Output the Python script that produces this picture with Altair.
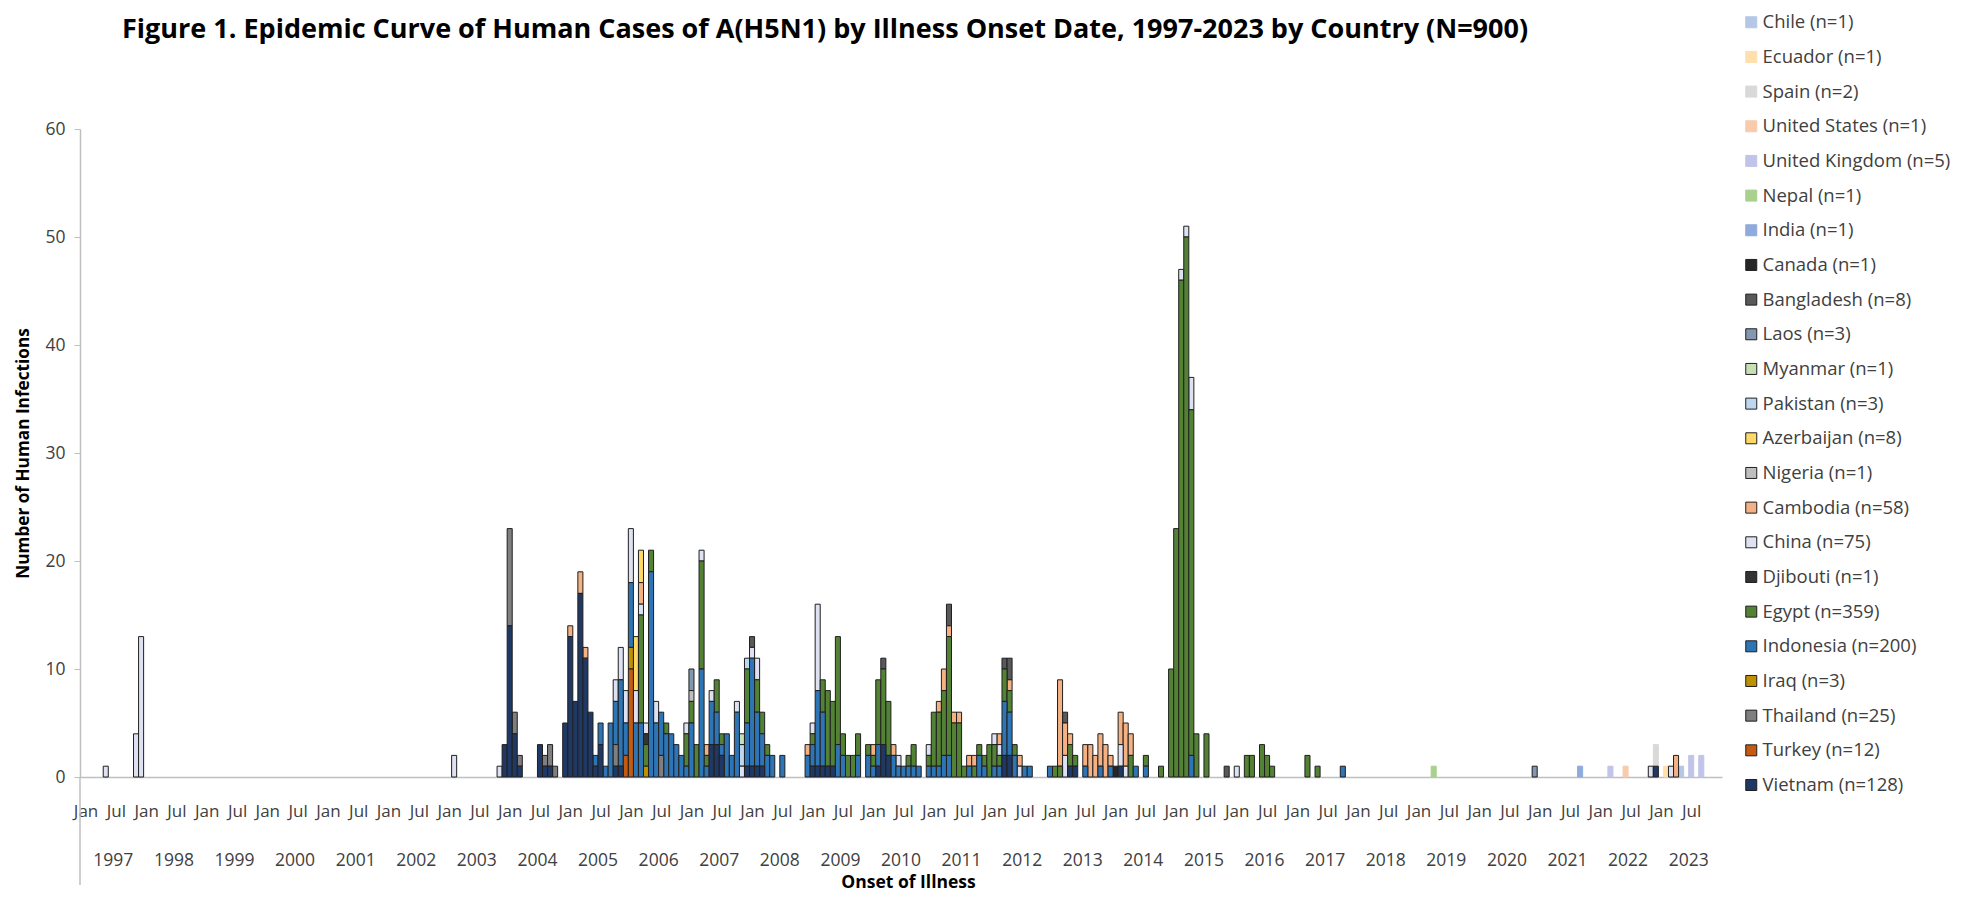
import altair as alt
import pandas as pd

TITLE = "Figure 1. Epidemic Curve of Human Cases of A(H5N1) by Illness Onset Date, 1997-2023 by Country (N=900)"
Y_TITLE = "Number of Human Infections"
X_TITLE = "Onset of Illness"
YEARS = list(range(1997, 2024))
Y_TICKS = [0, 10, 20, 30, 40, 50, 60]

# legend order, top to bottom (stack order is the reverse: Vietnam at the bottom)
COUNTRIES = ["Chile", "Ecuador", "Spain", "United States", "United Kingdom", "Nepal", "India",
             "Canada", "Bangladesh", "Laos", "Myanmar", "Pakistan", "Azerbaijan", "Nigeria",
             "Cambodia", "China", "Djibouti", "Egypt", "Indonesia", "Iraq", "Thailand", "Turkey",
             "Vietnam"]
COUNTRY_N = [1, 1, 2, 1, 5, 1, 1, 1, 8, 3, 1, 3, 8, 1, 58, 75, 1, 359, 200, 3, 25, 12, 128]
FILL = ["#B4C7E7", "#FFE0AC", "#D9D9D9", "#F8CBAD", "#C0C4E8", "#A9D18E", "#8FAADC",
        "#262626", "#595959", "#8497B0", "#C5E0B4", "#BDD7EE", "#FFD966", "#BFBFBF",
        "#F4B183", "#DDE1F2", "#333333", "#548235", "#2E75B6", "#BF9000", "#7F7F7F", "#C55A11",
        "#203864"]
OUTLINE = ["#B4C7E7", "#FFE0AC", "#D9D9D9", "#F8CBAD", "#C0C4E8", "#A9D18E", "#8FAADC",
           "#1F1F1F", "#1F1F1F", "#1F1F1F", "#1F1F1F", "#1F1F1F", "#1F1F1F", "#1F1F1F",
           "#1F1F1F", "#1F1F1F", "#1F1F1F", "#1F1F1F", "#1F1F1F", "#1F1F1F", "#1F1F1F", "#1F1F1F",
           "#1F1F1F"]

# monthly cases by onset month (YYYY-MM, cases)
CHILE = [("2023-05", 1)]
ECUADOR = [("2023-02", 1)]
SPAIN = [("2022-12", 2)]
UNITED_STATES = [("2022-06", 1)]
UNITED_KINGDOM = [("2022-03", 1), ("2023-07", 2), ("2023-09", 2)]
NEPAL = [("2019-04", 1)]
INDIA = [("2021-09", 1)]
CANADA = [("2014-01", 1)]
BANGLADESH = [("2008-01", 1), ("2010-03", 1), ("2011-04", 2), ("2012-03", 1), ("2012-04", 2),
              ("2013-03", 1), ("2015-11", 1)]
LAOS = [("2007-01", 2), ("2020-12", 1)]
MYANMAR = [("2007-11", 1)]
PAKISTAN = [("2007-11", 2), ("2007-12", 1)]
AZERBAIJAN = [("2006-02", 5), ("2006-03", 3)]
NIGERIA = [("2007-01", 1)]
CAMBODIA = [("2005-01", 1), ("2005-03", 2), ("2005-04", 1), ("2006-03", 2), ("2007-04", 1),
            ("2008-12", 1), ("2010-01", 1), ("2010-05", 1), ("2011-02", 1), ("2011-03", 2),
            ("2011-04", 1), ("2011-05", 1), ("2011-06", 1), ("2011-08", 1), ("2011-09", 1),
            ("2012-02", 1), ("2012-04", 1), ("2012-06", 1), ("2013-02", 8), ("2013-03", 3),
            ("2013-04", 1), ("2013-07", 2), ("2013-08", 3), ("2013-09", 2), ("2013-10", 3),
            ("2013-11", 3), ("2013-12", 1), ("2014-02", 3), ("2014-03", 4), ("2014-04", 2),
            ("2023-04", 2)]
CHINA = [("1997-05", 1), ("1997-11", 4), ("1997-12", 13), ("2003-02", 2), ("2003-11", 1),
         ("2005-10", 2), ("2005-11", 3), ("2005-12", 3), ("2006-01", 5), ("2006-02", 3),
         ("2006-03", 1), ("2006-04", 1), ("2006-06", 2), ("2006-12", 1), ("2007-03", 1),
         ("2007-05", 1), ("2007-10", 1), ("2007-11", 1), ("2008-01", 1), ("2008-02", 2),
         ("2009-01", 1), ("2009-02", 8), ("2010-06", 1), ("2010-12", 1), ("2012-01", 1),
         ("2012-02", 1), ("2012-06", 1), ("2013-03", 2), ("2014-02", 2), ("2014-03", 1),
         ("2015-02", 1), ("2015-03", 1), ("2015-04", 3), ("2016-01", 1), ("2022-11", 1),
         ("2023-03", 1)]
DJIBOUTI = [("2006-04", 1)]
EGYPT = [("2006-03", 10), ("2006-04", 2), ("2006-05", 2), ("2006-08", 1), ("2006-12", 3),
         ("2007-01", 2), ("2007-02", 3), ("2007-03", 10), ("2007-04", 1), ("2007-06", 3),
         ("2007-07", 1), ("2007-12", 5), ("2008-02", 3), ("2008-03", 2), ("2008-04", 1),
         ("2009-01", 1), ("2009-03", 3), ("2009-04", 7), ("2009-05", 6), ("2009-06", 10),
         ("2009-07", 2), ("2009-08", 2), ("2009-09", 2), ("2009-10", 2), ("2009-12", 1),
         ("2010-01", 1), ("2010-02", 6), ("2010-03", 7), ("2010-04", 5), ("2010-08", 1),
         ("2010-09", 2), ("2010-12", 1), ("2011-01", 5), ("2011-02", 5), ("2011-03", 6),
         ("2011-04", 11), ("2011-05", 5), ("2011-06", 5), ("2011-07", 1), ("2011-09", 1),
         ("2011-10", 1), ("2011-11", 1), ("2011-12", 3), ("2012-01", 2), ("2012-02", 1),
         ("2012-03", 3), ("2012-04", 2), ("2012-05", 1), ("2013-01", 1), ("2013-02", 1),
         ("2013-04", 2), ("2013-05", 1), ("2014-04", 2), ("2014-07", 1), ("2014-10", 1),
         ("2014-12", 10), ("2015-01", 23), ("2015-02", 46), ("2015-03", 50), ("2015-04", 32),
         ("2015-05", 4), ("2015-07", 4), ("2016-03", 2), ("2016-04", 2), ("2016-06", 3),
         ("2016-07", 2), ("2016-08", 1), ("2017-03", 2), ("2017-05", 1)]
INDONESIA = [("2005-06", 1), ("2005-07", 2), ("2005-08", 1), ("2005-09", 5), ("2005-10", 4),
             ("2005-11", 8), ("2005-12", 3), ("2006-01", 6), ("2006-02", 5), ("2006-03", 5),
             ("2006-05", 19), ("2006-06", 5), ("2006-07", 4), ("2006-08", 4), ("2006-09", 4),
             ("2006-10", 3), ("2006-11", 2), ("2006-12", 1), ("2007-01", 5), ("2007-03", 10),
             ("2007-04", 1), ("2007-05", 4), ("2007-06", 3), ("2007-07", 1), ("2007-08", 4),
             ("2007-09", 2), ("2007-10", 6), ("2007-12", 4), ("2008-01", 10), ("2008-02", 5),
             ("2008-03", 3), ("2008-04", 2), ("2008-05", 2), ("2008-07", 2), ("2008-12", 2),
             ("2009-01", 2), ("2009-02", 7), ("2009-03", 5), ("2009-06", 3), ("2009-07", 2),
             ("2009-10", 2), ("2009-12", 2), ("2010-01", 1), ("2010-02", 2), ("2010-05", 2),
             ("2010-06", 1), ("2010-07", 1), ("2010-08", 1), ("2010-09", 1), ("2010-10", 1),
             ("2010-12", 1), ("2011-01", 1), ("2011-02", 1), ("2011-03", 2), ("2011-04", 2),
             ("2011-08", 1), ("2011-10", 2), ("2011-11", 1), ("2012-01", 1), ("2012-02", 1),
             ("2012-03", 5), ("2012-04", 4), ("2012-05", 2), ("2012-07", 1), ("2012-08", 1),
             ("2012-12", 1), ("2013-07", 1), ("2013-10", 1), ("2013-12", 1), ("2014-05", 1),
             ("2014-07", 1), ("2015-04", 2), ("2017-10", 1)]
IRAQ = [("2006-01", 2), ("2006-04", 1)]
THAILAND = [("2004-01", 9), ("2004-02", 2), ("2004-03", 1), ("2004-08", 1), ("2004-09", 2),
            ("2004-10", 1), ("2005-10", 2), ("2006-07", 2)]
TURKEY = [("2005-12", 2), ("2006-01", 10)]
VIETNAM = [("2003-12", 3), ("2004-01", 14), ("2004-02", 4), ("2004-03", 1), ("2004-07", 3),
           ("2004-08", 1), ("2004-09", 1), ("2004-12", 5), ("2005-01", 13), ("2005-02", 7),
           ("2005-03", 17), ("2005-04", 11), ("2005-05", 6), ("2005-06", 1), ("2005-07", 3),
           ("2005-10", 1), ("2005-11", 1), ("2007-05", 3), ("2007-06", 3), ("2007-07", 2),
           ("2007-12", 1), ("2008-01", 1), ("2008-02", 1), ("2008-03", 1), ("2009-01", 1),
           ("2009-02", 1), ("2009-03", 1), ("2009-04", 1), ("2009-05", 1), ("2010-02", 1),
           ("2010-03", 3), ("2010-04", 2), ("2012-03", 2), ("2012-04", 2), ("2013-04", 1),
           ("2013-05", 1), ("2014-02", 1), ("2022-12", 1)]

SERIES = [CHILE, ECUADOR, SPAIN, UNITED_STATES, UNITED_KINGDOM, NEPAL, INDIA, CANADA,
          BANGLADESH, LAOS, MYANMAR, PAKISTAN, AZERBAIJAN, NIGERIA, CAMBODIA, CHINA, DJIBOUTI,
          EGYPT, INDONESIA, IRAQ, THAILAND, TURKEY, VIETNAM]

LABELS = [f"{c} (n={n})" for c, n in zip(COUNTRIES, COUNTRY_N)]
rows = []
for i, (lab, series) in enumerate(zip(LABELS, SERIES)):
    for ym, v in series:
        yr, mo = (int(p) for p in ym.split("-"))
        idx = (yr - 1997) * 12 + mo - 1
        rows.append({"country": lab, "m0": idx, "m1": idx + 1, "cases": v,
                     "stack": len(LABELS) - 1 - i})
df = pd.DataFrame(rows)

W, H = 1642, 648
FONT = "Open Sans"
GRAY = "#BFBFBF"
LABEL_COLOR = "#404040"
xs = alt.Scale(domain=[-0.6, 324.6], nice=False, zero=False)
ys = alt.Scale(domain=[0, 60], nice=False)

jan_jul = []
for k in range(len(YEARS)):
    jan_jul += [12 * k + 0.5, 12 * k + 6.5]

x_axis = alt.Axis(
    values=jan_jul, labelExpr="(datum.value % 12) < 3 ? 'Jan' : 'Jul'",
    ticks=False, grid=False, domainColor=GRAY, domainWidth=1.5,
    labelFont=FONT, labelFontSize=17, labelColor=LABEL_COLOR, labelPadding=26,
    labelAngle=0, labelOverlap=False, labelFlush=False,
    title=X_TITLE, titleFont=FONT, titleFontSize=17.5, titleFontWeight="bold",
    titleColor="black", titlePadding=54, titleX=828)

legend = alt.Legend(title=None, orient="none", legendX=1662, legendY=-116,
                    symbolType="square", symbolSize=121, symbolStrokeWidth=1,
                    labelFont=FONT, labelFontSize=18.5, labelColor=LABEL_COLOR,
                    rowPadding=15.67, labelOffset=2, padding=0, labelLimit=400)

bars = alt.Chart(df).transform_stack(
    stack="cases", groupby=["m0"], as_=["y0", "y1"],
    sort=[alt.SortField("stack", order="ascending")]
).mark_bar(strokeWidth=1).encode(
    x=alt.X("m0:Q", scale=xs, axis=x_axis),
    x2="m1:Q",
    y=alt.Y("y0:Q", scale=ys, axis=alt.Axis(
        values=Y_TICKS, grid=False, domainColor=GRAY, domainWidth=1.5, tickColor=GRAY,
        tickSize=6, labelFont=FONT, labelFontSize=17.5, labelColor=LABEL_COLOR, labelPadding=9,
        title=Y_TITLE, titleFont=FONT, titleFontSize=17.2, titleFontWeight="bold",
        titleColor="black", titlePadding=12)),
    y2="y1:Q",
    color=alt.Color("country:N", scale=alt.Scale(domain=LABELS, range=FILL), legend=legend),
    stroke=alt.Stroke("country:N", scale=alt.Scale(domain=LABELS, range=OUTLINE), legend=legend),
)

years = alt.Chart(pd.DataFrame({"year": YEARS})).transform_calculate(
    m0="(datum.year - 1997) * 12 + 6"
).mark_text(font=FONT, fontSize=17.5, color=LABEL_COLOR, baseline="middle").encode(
    x=alt.X("m0:Q", scale=xs, axis=x_axis),
    y=alt.value(731.5),
    text="year:N",
)

title = alt.Chart(pd.DataFrame({"t": [TITLE]})).mark_text(
    font=FONT, fontSize=27, fontWeight="bold", color="black", align="left",
    baseline="alphabetic"
).encode(x=alt.value(42), y=alt.value(-91.5), text="t:N")

ext = alt.Chart(pd.DataFrame({"a": [0]})).mark_rule(color=GRAY, strokeWidth=1.5).encode(
    x=alt.value(0), y=alt.value(H), y2=alt.value(H + 108))

chart = alt.layer(bars, years, ext, title).properties(
    width=W, height=H,
    padding={"left": 72, "top": 121, "right": 248, "bottom": 114},
    autosize=alt.AutoSizeParams(type="none"),
).configure_view(stroke=None)

chart.save("out.html", embed_options={"renderer": "svg", "actions": False})
